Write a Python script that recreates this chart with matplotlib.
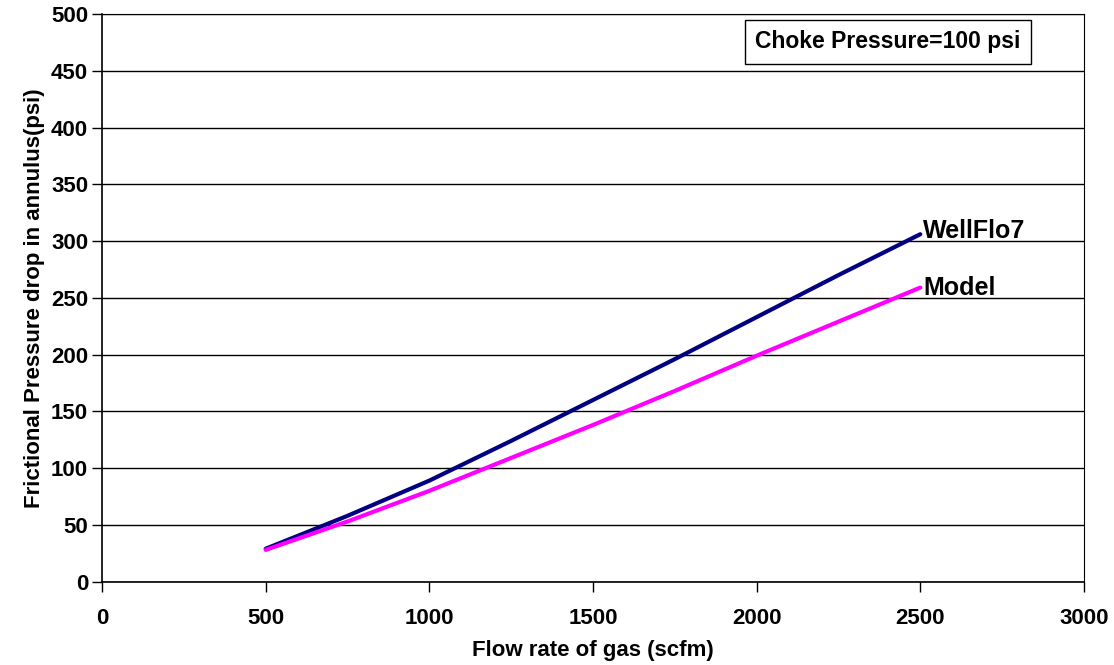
import matplotlib.pyplot as plt

# values
flow_rate = [500, 750, 1000, 1250, 1500, 1750, 2000, 2250, 2500]
wellflo7 = [29, 58, 89, 124, 160, 196, 233, 270, 306]
model = [28, 53, 80, 109, 138, 168, 199, 229, 259]

x_ticks = [0, 500, 1000, 1500, 2000, 2500, 3000]
y_ticks = [0, 50, 100, 150, 200, 250, 300, 350, 400, 450, 500]

plt.rcParams['font.family'] = ['Liberation Sans', 'DejaVu Sans']
plt.rcParams['font.weight'] = 'bold'

fig = plt.figure(figsize=(11.14, 6.65), dpi=100)
ax = fig.add_axes([0.0916, 0.1253, 0.8814, 0.8537])

ax.plot(flow_rate, wellflo7, color="#000080", linewidth=3, solid_capstyle="round")
ax.plot(flow_rate, model, color="#FF00FF", linewidth=3, solid_capstyle="round")

# series labels at line ends
ax.annotate("WellFlo7", xy=(flow_rate[-1], wellflo7[-1]), xytext=(2, 2),
            textcoords="offset points", va="center", ha="left",
            fontsize=18, fontweight="bold")
ax.annotate("Model", xy=(flow_rate[-1], model[-1]), xytext=(2, 0),
            textcoords="offset points", va="center", ha="left",
            fontsize=18, fontweight="bold")

ax.text(0.80, 0.951, "Choke Pressure=100 psi", transform=ax.transAxes,
        ha="center", va="center", fontsize=16.5, fontweight="bold",
        bbox=dict(boxstyle="square,pad=0.45", facecolor="white", edgecolor="black", linewidth=1))

ax.set_xlim(0, 3000)
ax.set_ylim(0, 500)
ax.set_xticks(x_ticks)
ax.set_yticks(y_ticks)
ax.tick_params(axis="both", direction="out", length=7, width=1, labelsize=16)
ax.tick_params(axis="x", pad=12)
ax.tick_params(axis="y", pad=3)
for lbl in ax.get_xticklabels() + ax.get_yticklabels():
    lbl.set_fontweight("bold")

ax.yaxis.grid(True, color="black", linewidth=1)
ax.set_axisbelow(True)
for side in ["left", "right", "top", "bottom"]:
    ax.spines[side].set_linewidth(1.2 if side in ("left", "bottom") else 0.8)
    ax.spines[side].set_color("black")

ax.set_xlabel("Flow rate of gas (scfm)", fontsize=16, fontweight="bold", labelpad=8)
ax.set_ylabel("Frictional Pressure drop in annulus(psi)", fontsize=16, fontweight="bold", labelpad=4)

fig.savefig("out.png", dpi=100)
